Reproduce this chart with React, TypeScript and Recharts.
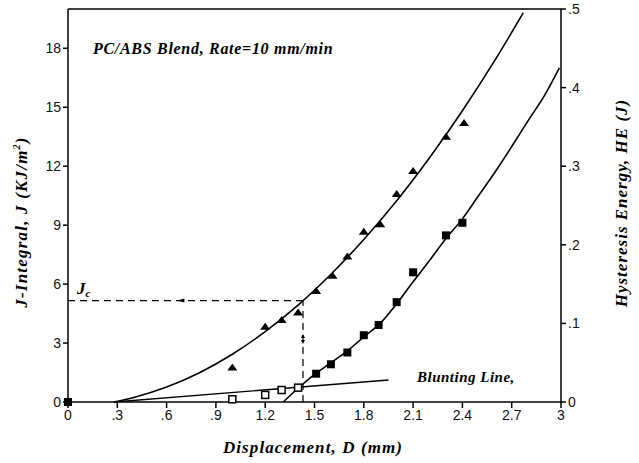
import React from 'react';
import {
  ComposedChart,
  Line,
  Scatter,
  XAxis,
  YAxis,
  ReferenceLine,
  ReferenceDot,
} from 'recharts';

// Displacement ticks (mm), J ticks (KJ/m2), HE ticks (J)
const dTicks = [0, 0.3, 0.6, 0.9, 1.2, 1.5, 1.8, 2.1, 2.4, 2.7, 3];
const jTicks = [0, 3, 6, 9, 12, 15, 18];
const heTicks = [0, 0.1, 0.2, 0.3, 0.4, 0.5];

// J-integral measurements (triangles)
const jD = [1.0, 1.2, 1.3, 1.4, 1.51, 1.61, 1.7, 1.8, 1.9, 2.0, 2.1, 2.3, 2.41];
const jVal = [1.75, 3.83, 4.17, 4.55, 5.65, 6.43, 7.4, 8.67, 9.04, 10.58, 11.76, 13.5, 14.2];

// fitted J curve
const jFitD = [0.28, 0.4, 0.6, 0.8, 1.0, 1.2, 1.4, 1.6, 1.8, 2.0, 2.2, 2.4, 2.6, 2.77];
const jFitVal = [0, 0.23, 0.76, 1.49, 2.43, 3.58, 4.93, 6.5, 8.27, 10.24, 12.43, 14.82, 17.42, 19.8];

// hysteresis energy measurements (filled squares)
const heD = [0, 1.51, 1.6, 1.7, 1.8, 1.89, 2.0, 2.1, 2.3, 2.4];
const heVal = [0, 0.036, 0.048, 0.063, 0.085, 0.098, 0.127, 0.165, 0.212, 0.228];

// fitted HE curve
const heFitD = [1.31, 1.4, 1.5, 1.6, 1.7, 1.8, 1.9, 2.0, 2.1, 2.2, 2.3, 2.4, 2.5, 2.6, 2.7, 2.8, 2.9, 2.99];
const heFitVal = [0, 0.0175, 0.035, 0.05, 0.065, 0.083, 0.1, 0.125, 0.153, 0.18, 0.208, 0.233, 0.263, 0.293, 0.325, 0.358, 0.39, 0.425];

// open squares below Jc
const openD = [1.0, 1.2, 1.3, 1.4];
const openVal = [0.14, 0.36, 0.61, 0.73];

// blunting line end points
const bluntD = [0.28, 1.95];
const bluntVal = [0, 1.12];

// critical point
const jc = 5.16;
const dc = 1.43;

const zip = (xs: number[], ys: number[]) => xs.map((x, i) => ({ x, y: ys[i] }));

const fmt = (v: number) => (v === 0 ? '0' : String(v).replace(/^0\./, '.'));

const tickStyle = { fontSize: 14, fill: '#111', fontFamily: 'Liberation Sans, Arial, sans-serif' };
const titleFont = 'Liberation Serif, Times New Roman, serif';

const Triangle = (props: any) => {
  const { cx, cy } = props;
  return <path d={`M${cx - 5},${cy + 3} L${cx},${cy - 4} L${cx + 5},${cy + 3} Z`} fill="#000" />;
};

const FilledSquare = (props: any) => {
  const { cx, cy } = props;
  return <rect x={cx - 4} y={cy - 4} width={8} height={8} fill="#000" />;
};

const OpenSquare = (props: any) => {
  const { cx, cy } = props;
  return <rect x={cx - 3.5} y={cy - 3.5} width={7} height={7} fill="#fff" stroke="#000" strokeWidth={1.5} />;
};

const LeftArrow = (props: any) => {
  const { cx, cy } = props;
  return <path d={`M${cx - 4},${cy} L${cx + 3},${cy - 2} L${cx + 3},${cy + 2} Z`} fill="#000" />;
};

const VertArrow = (props: any) => {
  const { cx, cy } = props;
  return (
    <path
      d={`M${cx},${cy - 5} L${cx - 2},${cy - 1} L${cx + 2},${cy - 1} Z M${cx},${cy + 5} L${cx - 2},${cy + 1} L${cx + 2},${cy + 1} Z`}
      fill="#000"
    />
  );
};

export default function App() {
  return (
    <div style={{ position: 'absolute', left: 0, top: 0, width: 639, height: 463, background: '#fff' }}>
      <ComposedChart width={639} height={463} margin={{ top: 9, right: 28, left: 18, bottom: 31 }}>
        <XAxis
          dataKey="x"
          type="number"
          domain={[0, 3]}
          ticks={dTicks}
          tickFormatter={fmt}
          tick={tickStyle}
          tickSize={6}
          height={30}
          stroke="#000"
          strokeWidth={1.5}
        />
        <YAxis
          yAxisId="left"
          type="number"
          domain={[0, 20]}
          ticks={jTicks}
          tickFormatter={fmt}
          tick={tickStyle}
          tickSize={5}
          width={50}
          stroke="#000"
          strokeWidth={1.5}
        />
        <YAxis
          yAxisId="right"
          orientation="right"
          type="number"
          domain={[0, 0.5]}
          ticks={heTicks}
          tickFormatter={fmt}
          tick={tickStyle}
          tickSize={5}
          width={50}
          stroke="#000"
          strokeWidth={1.5}
        />
        <ReferenceLine yAxisId="left" y={20} stroke="#000" strokeWidth={1.5} />

        <ReferenceLine
          yAxisId="left"
          segment={[{ x: 0, y: jc }, { x: dc, y: jc }]}
          stroke="#000"
          strokeWidth={1.2}
          strokeDasharray="7 5"
        />
        <ReferenceLine
          yAxisId="left"
          segment={[{ x: dc, y: 0 }, { x: dc, y: jc }]}
          stroke="#000"
          strokeWidth={1.2}
          strokeDasharray="7 5"
        />
        <ReferenceDot yAxisId="left" x={0.69} y={jc} r={3} shape={LeftArrow} />
        <ReferenceDot yAxisId="left" x={dc} y={3.2} r={3} shape={VertArrow} />

        <Line
          yAxisId="left"
          data={zip(jFitD, jFitVal)}
          dataKey="y"
          type="monotone"
          stroke="#000"
          strokeWidth={1.6}
          dot={false}
          isAnimationActive={false}
        />
        <Line
          yAxisId="right"
          data={zip(heFitD, heFitVal)}
          dataKey="y"
          type="monotone"
          stroke="#000"
          strokeWidth={1.6}
          dot={false}
          isAnimationActive={false}
        />
        <Line
          yAxisId="left"
          data={zip(bluntD, bluntVal)}
          dataKey="y"
          type="linear"
          stroke="#000"
          strokeWidth={1.4}
          dot={false}
          isAnimationActive={false}
        />
        <Scatter yAxisId="left" data={zip(openD, openVal)} dataKey="y" shape={OpenSquare} isAnimationActive={false} />
        <Scatter yAxisId="left" data={zip(jD, jVal)} dataKey="y" shape={Triangle} isAnimationActive={false} />
        <Scatter yAxisId="right" data={zip(heD, heVal)} dataKey="y" shape={FilledSquare} isAnimationActive={false} />
      </ComposedChart>

      <svg
        width={639}
        height={463}
        style={{ position: 'absolute', left: 0, top: 0, pointerEvents: 'none' }}
      >
        <g fontFamily={titleFont} fontStyle="italic" fontWeight="bold" fill="#000">
          <text x={93} y={54} fontSize={16} letterSpacing={0.7}>PC/ABS Blend, Rate=10 mm/min</text>
          <text x={417} y={382} fontSize={15} letterSpacing={0.5}>Blunting Line,</text>
          <text x={77} y={294} fontSize={17}>
            J<tspan fontSize={11} dy={3}>c</tspan>
          </text>
          <text x={313} y={453} fontSize={17} letterSpacing={1.1} textAnchor="middle">Displacement, D (mm)</text>
          <text x={27} y={222} fontSize={17} letterSpacing={1.2} textAnchor="middle" transform="rotate(-90 27 222)">
            J-Integral, J  (KJ/m<tspan fontSize={10} dy={-7}>2</tspan><tspan dy={7}>)</tspan>
          </text>
          <text x={627} y={203} fontSize={17} letterSpacing={1.0} textAnchor="middle" transform="rotate(-90 627 203)">
            Hysteresis Energy, HE (J)
          </text>
        </g>
      </svg>
    </div>
  );
}
